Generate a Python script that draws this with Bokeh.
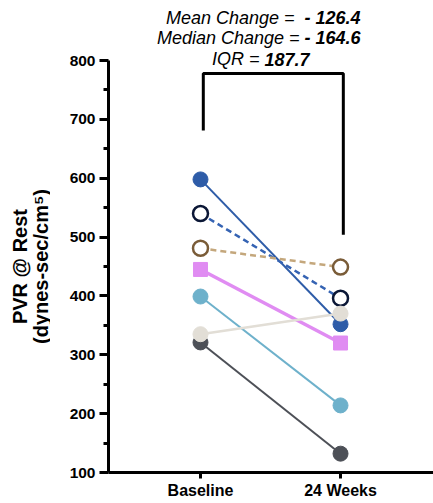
import math
from bokeh.plotting import figure
from bokeh.layouts import row
from bokeh.models import Label, FixedTicker, Range1d
from bokeh.core.properties import value
from bokeh.embed import file_html
from bokeh.resources import INLINE

# ---- data ----
timepoints = ["Baseline", "24 Weeks"]
subjects = ["S1", "S2", "S3", "S4", "S5", "S6", "S7"]
baseline = [598, 540, 481, 445, 399, 335, 321]
week24 = [352, 396, 449, 320, 214, 370, 132]
y_ticks = [100, 200, 300, 400, 500, 600, 700, 800]
bracket_y_left = 681
bracket_y_right = 504
bracket_top = 778
stats_labels = ["Mean Change  = ", "Median Change = ", "IQR = "]
stats_values = ["- 126.4", "- 164.6", "187.7"]
y_title_lines = ["PVR @ Rest", "(dynes-sec/cm\u2075)"]

# ---- styles ----
styles = {
    "S1": dict(line="#2e5ca8", dash="solid", lw=2, marker="circle", fill="#2e5ca8", edge="#2e5ca8"),
    "S2": dict(line="#3563b3", dash="6 4", lw=2.5, marker="circle", fill="white", edge="#0b1736"),
    "S3": dict(line="#c4a77c", dash="6 4", lw=2.5, marker="circle", fill="white", edge="#7a5c38"),
    "S4": dict(line="#e08cf2", dash="solid", lw=3.5, marker="square", fill="#e08cf2", edge="#e08cf2"),
    "S5": dict(line="#6eb1cb", dash="solid", lw=2, marker="circle", fill="#6eb1cb", edge="#6eb1cb"),
    "S6": dict(line="#e2ded6", dash="solid", lw=2.5, marker="circle", fill="#e2ded6", edge="#e2ded6"),
    "S7": dict(line="#4d5057", dash="solid", lw=2, marker="circle", fill="#4d5057", edge="#4d5057"),
}
draw_order = ["S7", "S5", "S4", "S1", "S2", "S3", "S6"]
font = "Liberation Sans"

xs = [0, 1]

# ---- y-axis title panel ----
t = figure(width=50, height=503, output_backend="svg", toolbar_location=None,
           x_range=Range1d(0, 50), y_range=Range1d(100, 902),
           min_border_left=0, min_border_right=0, min_border_top=0, min_border_bottom=31)
t.outline_line_color = None
t.axis.visible = False
t.grid.visible = False
t.text(x=[19, 40], y=[450, 450], text=y_title_lines, angle=math.pi / 2,
       text_align="center", text_baseline="middle", text_font=value(font),
       text_font_style="bold", text_font_size="20px", text_color="black")

# ---- main plot ----
p = figure(width=383, height=503, output_backend="svg", toolbar_location=None,
           x_range=Range1d(-0.657, 1.664), y_range=Range1d(100, 902),
           min_border_left=58, min_border_right=0, min_border_top=0, min_border_bottom=31)
p.outline_line_color = None
p.grid.visible = False
p.background_fill_color = "white"

for s in draw_order:
    i = subjects.index(s)
    st = styles[s]
    p.line(xs, [baseline[i], week24[i]], line_color=st["line"], line_width=st["lw"], line_dash=st["dash"])
for s in draw_order:
    i = subjects.index(s)
    st = styles[s]
    lw = 2.5 if st["fill"] == "white" else 1
    p.scatter(xs, [baseline[i], week24[i]], marker=st["marker"], size=15 if st["marker"] == "circle" else 14,
              fill_color=st["fill"], line_color=st["edge"], line_width=lw)

# bracket
p.line([0.02, 0.02, 1.02, 1.02], [bracket_y_left, bracket_top, bracket_top, bracket_y_right],
       line_color="black", line_width=3)

# stats text
split_x = [0.743, 0.743, 0.457]
text_y = [873, 839, 802]
for lab, val, sx, ty in zip(stats_labels, stats_values, split_x, text_y):
    p.add_layout(Label(x=sx, y=ty, text=lab, text_align="right", text_baseline="middle",
                       text_font=font, text_font_style="italic", text_font_size="18px", text_color="black"))
    p.add_layout(Label(x=sx, y=ty, text=val, text_align="left", text_baseline="middle",
                       text_font=font, text_font_style="bold italic", text_font_size="18px", text_color="black"))

# axes
p.yaxis.bounds = (100, 800)
p.yaxis.ticker = FixedTicker(ticks=y_ticks, minor_ticks=[150, 250, 350, 450, 550, 650, 750])
p.yaxis.axis_line_width = 3
p.yaxis.major_tick_line_width = 3
p.yaxis.minor_tick_line_width = 3
p.yaxis.major_tick_out = 9
p.yaxis.major_tick_in = 0
p.yaxis.minor_tick_out = 5
p.yaxis.minor_tick_in = 0
p.yaxis.major_label_text_font = font
p.yaxis.major_label_text_font_style = "bold"
p.yaxis.major_label_text_font_size = "15.5px"
p.yaxis.major_label_text_color = "black"
p.yaxis.major_label_standoff = 4

p.xaxis.ticker = FixedTicker(ticks=xs, minor_ticks=[])
p.xaxis.major_label_overrides = {0: timepoints[0], 1: timepoints[1]}
p.xaxis.axis_line_width = 3
p.xaxis.major_tick_line_width = 3
p.xaxis.major_tick_out = 6
p.xaxis.major_tick_in = 0
p.xaxis.minor_tick_line_color = None
p.xaxis.major_label_text_font = font
p.xaxis.major_label_text_font_style = "bold"
p.xaxis.major_label_text_font_size = "16px"
p.xaxis.major_label_text_color = "black"
p.xaxis.major_label_standoff = 3

layout = row(t, p, spacing=0)
open("out.html", "w").write(file_html(layout, INLINE))
